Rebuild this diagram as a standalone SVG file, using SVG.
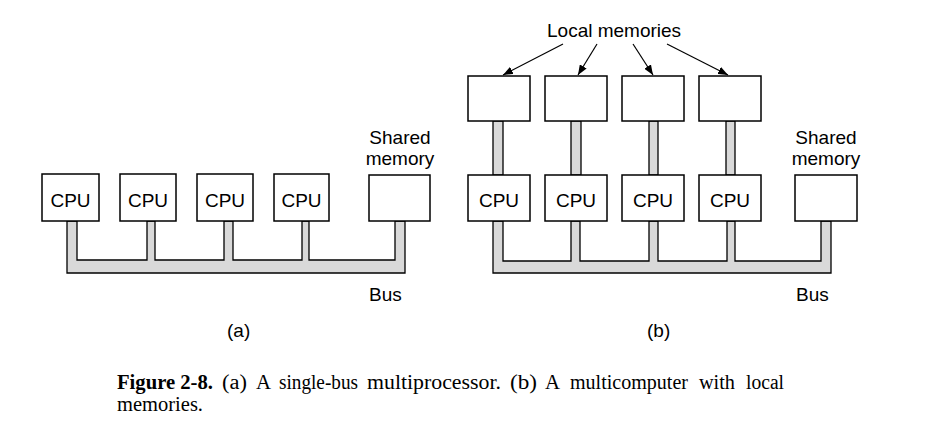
<svg xmlns="http://www.w3.org/2000/svg" width="927" height="431" viewBox="0 0 927 431">
<style>
.box{fill:#fff;stroke:#000;stroke-width:1.5}
.bus{fill:#d9d9d9;stroke:#000;stroke-width:1.3;stroke-linejoin:miter}
.lbl{font-family:"Liberation Sans",Arial,sans-serif;font-size:19px;fill:#000}
.mid{text-anchor:middle}
.cap{font-family:"Liberation Serif","Times New Roman",serif;font-size:20.5px;fill:#000}
.arr{stroke:#000;stroke-width:1.2;fill:none;marker-end:url(#ah)}
</style>
<defs>
<marker id="ah" viewBox="0 0 10 8" refX="10" refY="4" markerWidth="10" markerHeight="8" markerUnits="userSpaceOnUse" orient="auto">
<path d="M0,0 L10,4 L0,8 Z" fill="#000"/>
</marker>
</defs>
<rect width="927" height="431" fill="#fff"/>
<g id="connectors">
<path class="bus" d="M67,221 L67,273 L405,273 L405,221 L395,221 L395,260 L309,260 L309,221 L302,221 L302,260 L233,260 L233,221 L224,221 L224,260 L155,260 L155,221 L147,221 L147,260 L77,260 L77,221 Z"/>
<path class="bus" d="M493,221 L493,273 L831,273 L831,221 L821,221 L821,261 L735,261 L735,221 L727,221 L727,261 L658,261 L658,221 L649,221 L649,261 L580,261 L580,221 L571,221 L571,261 L503,261 L503,221 Z"/>
<rect class="bus" x="493" y="121" width="10" height="54"/>
<rect class="bus" x="571" y="121" width="10" height="54"/>
<rect class="bus" x="649" y="121" width="9" height="54"/>
<rect class="bus" x="726" y="121" width="9" height="54"/>
<line class="arr" x1="563" y1="44" x2="503" y2="75"/>
<line class="arr" x1="597" y1="44" x2="578" y2="75"/>
<line class="arr" x1="633" y1="44" x2="653" y2="75"/>
<line class="arr" x1="667" y1="44" x2="728" y2="75"/>
</g>
<g id="a-cpu1"><rect class="box" x="42" y="174" width="57" height="47"/><text class="lbl mid" x="70.5" y="207">CPU</text></g>
<g id="a-cpu2"><rect class="box" x="120" y="174" width="56" height="47"/><text class="lbl mid" x="148" y="207">CPU</text></g>
<g id="a-cpu3"><rect class="box" x="197" y="174" width="56" height="47"/><text class="lbl mid" x="225" y="207">CPU</text></g>
<g id="a-cpu4"><rect class="box" x="274" y="174" width="55" height="47"/><text class="lbl mid" x="301.5" y="207">CPU</text></g>
<g id="a-mem"><rect class="box" x="369" y="175" width="61" height="46"/><text class="lbl mid" x="400" y="144">Shared</text><text class="lbl mid" x="400" y="165">memory</text></g>
<text class="lbl" x="369" y="301">Bus</text>
<text class="lbl" x="227" y="337">(a)</text>
<g id="b-lm1"><rect class="box" x="468" y="76" width="62" height="45"/></g>
<g id="b-lm2"><rect class="box" x="545" y="76" width="62" height="45"/></g>
<g id="b-lm3"><rect class="box" x="622" y="76" width="62" height="45"/></g>
<g id="b-lm4"><rect class="box" x="699" y="76" width="62" height="45"/></g>
<text class="lbl" x="547" y="37">Local memories</text>
<g id="b-cpu1"><rect class="box" x="468" y="175" width="62" height="46"/><text class="lbl mid" x="499" y="207">CPU</text></g>
<g id="b-cpu2"><rect class="box" x="545" y="175" width="62" height="46"/><text class="lbl mid" x="576" y="207">CPU</text></g>
<g id="b-cpu3"><rect class="box" x="622" y="175" width="62" height="46"/><text class="lbl mid" x="653" y="207">CPU</text></g>
<g id="b-cpu4"><rect class="box" x="699" y="175" width="62" height="46"/><text class="lbl mid" x="730" y="207">CPU</text></g>
<g id="b-mem"><rect class="box" x="795" y="175" width="62" height="46"/><text class="lbl mid" x="826" y="144">Shared</text><text class="lbl mid" x="826" y="165">memory</text></g>
<text class="lbl" x="796" y="301">Bus</text>
<text class="lbl" x="647" y="337">(b)</text>
<g id="caption" class="cap">
<text x="117" y="389" font-weight="bold" textLength="96" lengthAdjust="spacingAndGlyphs">Figure 2-8.</text>
<text x="222" y="389" textLength="25" lengthAdjust="spacingAndGlyphs">(a)</text>
<text x="256" y="389" textLength="15" lengthAdjust="spacingAndGlyphs">A</text>
<text x="279" y="389" textLength="79" lengthAdjust="spacingAndGlyphs">single-bus</text>
<text x="367" y="389" textLength="134" lengthAdjust="spacingAndGlyphs">multiprocessor.</text>
<text x="510" y="389" textLength="27" lengthAdjust="spacingAndGlyphs">(b)</text>
<text x="545" y="389" textLength="15" lengthAdjust="spacingAndGlyphs">A</text>
<text x="570" y="389" textLength="118" lengthAdjust="spacingAndGlyphs">multicomputer</text>
<text x="699" y="389" textLength="36" lengthAdjust="spacingAndGlyphs">with</text>
<text x="746" y="389" textLength="38" lengthAdjust="spacingAndGlyphs">local</text>
<text x="117" y="411" textLength="86" lengthAdjust="spacingAndGlyphs">memories.</text>
</g>
</svg>
